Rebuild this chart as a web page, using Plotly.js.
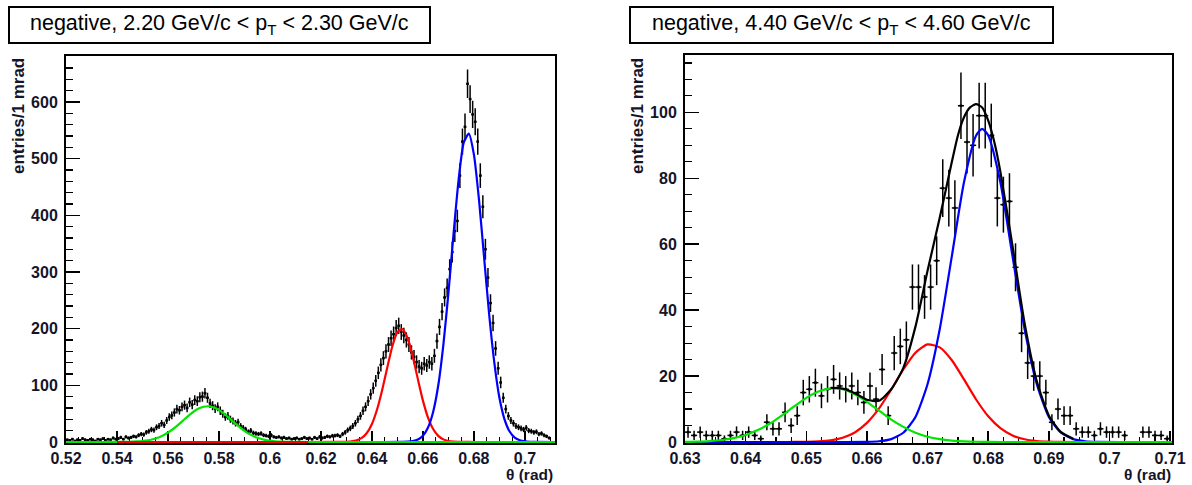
<!DOCTYPE html>
<html><head><meta charset="utf-8">
<script src="https://cdn.plot.ly/plotly-3.0.1.min.js"></script>
<style>html,body{margin:0;padding:0;background:#fff}#chart{width:1192px;height:485px}</style>
</head><body><div id="chart"></div>
<script>
// ---------- LEFT PANEL: 2.20 < pT < 2.30 GeV/c (1 mrad bins from 0.520) ----------
const leftBinStart = 0.5205;
const binWidth = 0.001;
const leftCounts = [
 4,3,5,2,4,3,6,4,3,5, 4,2,5,4,6,3,5,4,7,5, 6,8,5,9,7,
 8,10,9,12,14,13,17,19,22,21,
 26,28,33,30,38,44,47,52,58,56,
 62,65,60,70,66,74,72,79,80,86,
 78,68,64,59,62,55,50,44,46,40,
 37,33,35,28,25,22,18,20,16,15,
 14,15,12,11,10,12,9,8,9,7,
 8,6,7,5,6,7,5,6,8,6,
 7,5,8,6,9,7,8,10,9,11,
 11,12,10,14,17,21,24,28,33,40,
 46,55,62,72,84,95,108,122,136,148,
 160,172,183,190,201,205,194,188,180,172,
 158,150,141,133,130,138,135,141,138,152,
 178,203,230,255,272,305,335,372,390,470,
 530,556,632,605,578,565,530,470,415,340,
 290,245,210,165,130,105,78,58,46,38,
 33,28,26,24,22,25,20,19,17,18,
 14,15,12,10,7
];
const leftGreenX = [0.520,0.530,0.538,0.540,0.542,0.544,0.546,0.548,0.550,0.552,0.554,0.556,0.558,0.560,0.562,0.564,0.566,0.568,0.570,0.572,0.574,0.576,0.578,0.580,0.582,0.584,0.586,0.588,0.590,0.592,0.594,0.596,0.598,0.600,0.602,0.604,0.606,0.608,0.610,0.612,0.615];
const leftGreenY = [0,0,0.02,0.06,0.12,0.26,0.51,0.96,1.7,2.9,4.9,7.6,11.5,16.7,22.9,30.3,38.2,46.1,53.3,58.9,62.2,63,60.9,56.3,49.9,42.2,34.2,26.5,19.7,13.9,9.4,6.1,3.8,2.3,1.3,0.7,0.37,0.18,0.09,0.04,0];
const leftGreenTailX = [0.615,0.7118];
const leftGreenTailY = [0,0];
const leftRedX = [0.540,0.600,0.626,0.628,0.630,0.632,0.634,0.636,0.638,0.640,0.642,0.644,0.646,0.648,0.650,0.652,0.654,0.656,0.658,0.660,0.662,0.664,0.666,0.668,0.670,0.672,0.674,0.676,0.680,0.7118];
const leftRedY = [0,0,0.02,0.09,0.33,1.0,2.9,7.1,15.9,31.8,57.3,91.4,131,169,194,199,183,151,111,73,43,22.8,10.8,4.6,1.7,0.58,0.18,0.05,0,0];
const leftBlueX = [0.645,0.650,0.652,0.654,0.656,0.658,0.660,0.662,0.664,0.666,0.668,0.670,0.672,0.674,0.676,0.678,0.680,0.682,0.684,0.686,0.688,0.690,0.692,0.694,0.696,0.698,0.700,0.702,0.704,0.7118];
const leftBlueY = [0,0.03,0.14,0.49,1.5,4.3,11,25.5,53,99.6,171,263,367,463,528,544,507,427,325,224,140,78,40,18.4,7.7,2.9,1.0,0.3,0.08,0];

// ---------- RIGHT PANEL: 4.40 < pT < 4.60 GeV/c (1 mrad bins from 0.630) ----------
const rightBinStart = 0.6305;
const rightCounts = [
 3,2,3,2,2,2,1,2,3,2,
 3,2,1,6,4,4,9,5,8,15,
 16,18,14,16,19,17,16,17,15,12,
 17,13,22,8,27,29,31,47,47,44,
 47,55,77,74,71,102,91,90,99,99,
 93,74,72,73,53,33,24,20,20,15,
 6,10,8,8,4,3,3,2,4,3,
 3,3,2,0,0,3,3,2,2,1
];
const rightGreenX = [0.630,0.632,0.634,0.636,0.638,0.640,0.642,0.644,0.646,0.648,0.650,0.652,0.654,0.656,0.658,0.660,0.662,0.664,0.666,0.668,0.670,0.672,0.674,0.676,0.678,0.680,0.684,0.7103];
const rightGreenY = [0.05,0.12,0.28,0.6,1.17,2.14,3.61,5.6,8.1,10.8,13.4,15.3,16.3,16.0,14.5,12.2,9.5,6.8,4.6,2.8,1.6,0.85,0.42,0.19,0.08,0.03,0,0];
const rightRedX = [0.630,0.646,0.648,0.650,0.652,0.654,0.656,0.658,0.660,0.662,0.664,0.666,0.668,0.670,0.672,0.674,0.676,0.678,0.680,0.682,0.684,0.686,0.688,0.690,0.692,0.696,0.7103];
const rightRedY = [0,0,0.02,0.06,0.18,0.52,1.31,2.9,5.8,10.2,15.9,22.0,27.1,29.6,28.7,24.8,19.0,12.9,7.8,4.2,2.0,0.84,0.31,0.1,0.03,0,0];
const rightBlueX = [0.630,0.656,0.660,0.662,0.664,0.666,0.668,0.670,0.672,0.674,0.676,0.678,0.679,0.680,0.682,0.684,0.686,0.688,0.690,0.692,0.694,0.696,0.698,0.702,0.7103];
const rightBlueY = [0,0,0.05,0.23,0.87,2.8,7.6,17.6,34.2,56.4,78.8,93.0,95,93.0,78.8,56.4,34.2,17.6,7.6,2.8,0.87,0.23,0.05,0,0];
const rightTotalX = [0.654,0.656,0.658,0.660,0.662,0.664,0.666,0.668,0.670,0.672,0.674,0.675,0.676,0.677,0.678,0.679,0.680,0.681,0.682,0.684,0.686,0.688,0.690,0.692,0.694];
const rightTotalY = [16.4,16.2,14.8,12.8,12.5,16,22.5,35,52,68,85,93,98.5,101.5,102.5,101.5,97.5,91,82,59.5,36,18.5,8,3,1];

// ---------- text ----------
const titles = ['negative, 2.20 GeV/c &lt; p<sub>T</sub> &lt; 2.30 GeV/c',
                'negative, 4.40 GeV/c &lt; p<sub>T</sub> &lt; 4.60 GeV/c'];
const yTitle = 'entries/1 mrad';
const xTitle = 'θ (rad)';

const W = 1192, H = 485;
const px = v => v / W;
const py = v => (H - v) / H;
const FONT = 'Liberation Sans, Arial, sans-serif';
const INK = '#14142a';
const tickFont = {family: FONT, size: 16, color: INK, weight: 'bold'};

function dataTrace(start, counts, xa, ya) {
  return {
    type: 'scatter', mode: 'markers', x0: start, dx: binWidth,
    y: counts.map(c => c > 0 ? c : null),
    xaxis: xa, yaxis: ya,
    marker: {color: '#000', size: 2.5, symbol: 'square'},
    error_y: {type: 'sqrt', color: '#000', thickness: 1.5, width: 0},
    error_x: {type: 'constant', value: binWidth / 2, color: '#000', thickness: 1.5, width: 0},
    hoverinfo: 'skip', showlegend: false
  };
}
function curve(x, y, color, xa, ya) {
  return {type: 'scatter', mode: 'lines', x: x, y: y, xaxis: xa, yaxis: ya,
    line: {color: color, width: 2.2, shape: 'spline', smoothing: 0.6},
    hoverinfo: 'skip', showlegend: false};
}

const traces = [
  dataTrace(leftBinStart, leftCounts, 'x', 'y'),
  curve(leftGreenX, leftGreenY, '#00e600', 'x', 'y'),
  curve(leftRedX, leftRedY, '#ff0000', 'x', 'y'),
  curve(leftBlueX, leftBlueY, '#0000ff', 'x', 'y'),
  curve(leftGreenTailX, leftGreenTailY, '#00e600', 'x', 'y'),
  dataTrace(rightBinStart, rightCounts, 'x2', 'y2'),
  curve(rightRedX, rightRedY, '#ff0000', 'x2', 'y2'),
  curve(rightBlueX, rightBlueY, '#0000ff', 'x2', 'y2'),
  curve(rightGreenX, rightGreenY, '#00e600', 'x2', 'y2'),
  curve(rightTotalX, rightTotalY, '#000000', 'x2', 'y2')
];

function xAxis(domain, range, dtick, minor, anchor) {
  return {domain: domain, range: range, anchor: anchor, dtick: dtick, tick0: range[0],
    ticks: 'inside', ticklen: 12, tickwidth: 1.5, tickcolor: '#000',
    minor: {dtick: minor, ticks: 'inside', ticklen: 6, tickwidth: 1.2, tickcolor: '#000'},
    showline: true, linecolor: '#000', linewidth: 2, mirror: true, layer: 'below traces',
    showgrid: false, zeroline: false, tickfont: tickFont, ticklabelstandoff: 0};
}
function yAxis(domain, range, dtick, minor, anchor) {
  return {domain: domain, range: range, anchor: anchor, dtick: dtick, tick0: 0,
    ticks: 'inside', ticklen: 14, tickwidth: 1.5, tickcolor: '#000',
    minor: {dtick: minor, ticks: 'inside', ticklen: 7, tickwidth: 1.2, tickcolor: '#000'},
    showline: true, linecolor: '#000', linewidth: 2, mirror: true, layer: 'below traces',
    showgrid: false, zeroline: false, tickfont: tickFont, ticklabelstandoff: 3};
}

const layout = {
  width: W, height: H, margin: {l: 0, r: 0, t: 0, b: 0},
  paper_bgcolor: '#fff', plot_bgcolor: '#fff', showlegend: false,
  xaxis: xAxis([px(66), px(555)], [0.52, 0.7118], 0.02, 0.005, 'y'),
  yaxis: yAxis([py(443), py(56)], [-1.8, 681], 100, 20, 'x'),
  xaxis2: xAxis([px(685), px(1172)], [0.63, 0.7103], 0.01, 0.0025, 'y2'),
  yaxis2: yAxis([py(443), py(55)], [-0.3, 117.4], 20, 5, 'x2'),
  shapes: [
    {type: 'rect', xref: 'paper', yref: 'paper', x0: px(9), x1: px(430), y0: py(43), y1: py(7),
     line: {color: '#000', width: 2}, fillcolor: 'rgba(0,0,0,0)'},
    {type: 'rect', xref: 'paper', yref: 'paper', x0: px(630), x1: px(1053), y0: py(43), y1: py(7),
     line: {color: '#000', width: 2}, fillcolor: 'rgba(0,0,0,0)'}
  ],
  annotations: [
    {xref: 'paper', yref: 'paper', x: px(219.5), y: py(24), text: titles[0], showarrow: false,
     xanchor: 'center', yanchor: 'middle', font: {family: FONT, size: 21.5, color: '#000'}},
    {xref: 'paper', yref: 'paper', x: px(841.5), y: py(24), text: titles[1], showarrow: false,
     xanchor: 'center', yanchor: 'middle', font: {family: FONT, size: 21.5, color: '#000'}},
    {xref: 'paper', yref: 'paper', x: px(18), y: py(56), text: yTitle, textangle: -90, showarrow: false,
     xanchor: 'center', yanchor: 'top', font: {family: FONT, size: 17, color: INK, weight: 'bold'}},
    {xref: 'paper', yref: 'paper', x: px(637), y: py(56), text: yTitle, textangle: -90, showarrow: false,
     xanchor: 'center', yanchor: 'top', font: {family: FONT, size: 17, color: INK, weight: 'bold'}},
    {xref: 'paper', yref: 'paper', x: px(555), y: py(485), text: xTitle, showarrow: false,
     xanchor: 'right', yanchor: 'bottom', borderpad: 1, font: {family: FONT, size: 15.5, color: INK, weight: 'bold'}},
    {xref: 'paper', yref: 'paper', x: px(1173), y: py(485), text: xTitle, showarrow: false,
     xanchor: 'right', yanchor: 'bottom', borderpad: 1, font: {family: FONT, size: 15.5, color: INK, weight: 'bold'}}
  ]
};

Plotly.newPlot('chart', traces, layout, {staticPlot: true, displayModeBar: false});
</script></body></html>
